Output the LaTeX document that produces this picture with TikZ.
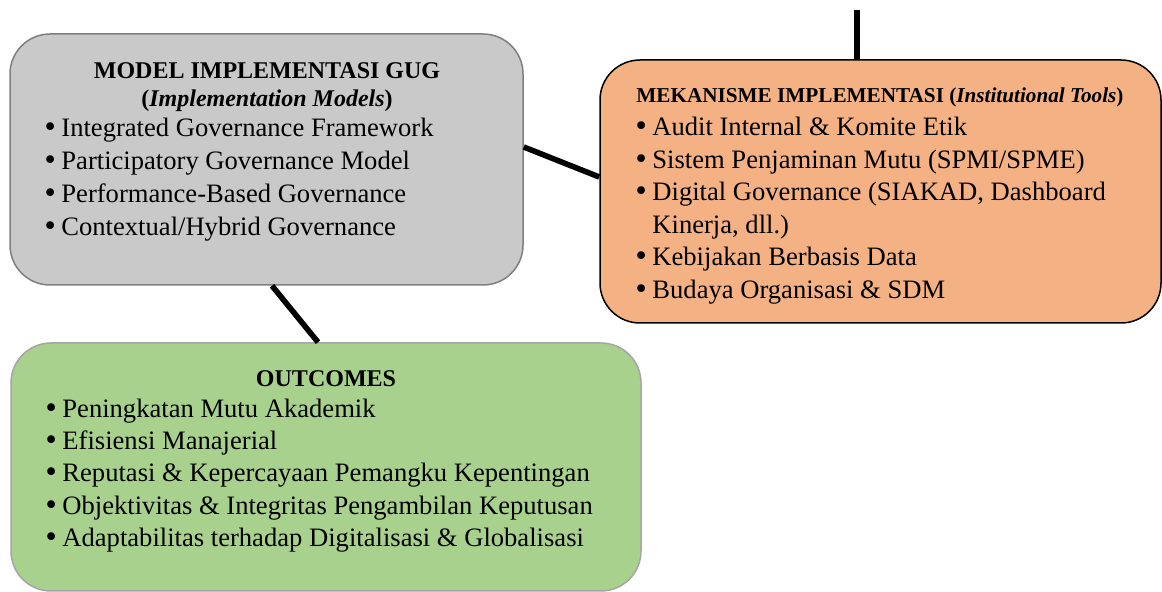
\documentclass[tikz,border=0pt]{standalone}
\usepackage{fontspec}
\setmainfont{Liberation Serif}
\newfontfamily\bulfont{DejaVu Sans}
\usetikzlibrary{positioning}

\definecolor{gugGray}{HTML}{C9C9C9}
\definecolor{gugEdge}{HTML}{7F7F7F}
\definecolor{toolOrange}{HTML}{F4B183}
\definecolor{outGreen}{HTML}{A9D18E}
\definecolor{outEdge}{HTML}{A5A5A5}

\tikzset{
  box/.style={draw, rounded corners=20pt, line width=0.75pt, inner sep=0pt},
  item/.style={anchor=base west, inner sep=0pt, font=\fontsize{13.3}{16.5}\selectfont},
  head/.style={anchor=base, inner sep=0pt, font=\bfseries\fontsize{12}{14}\selectfont},
  link/.style={line width=2.8pt},
}
\newcommand{\bul}{\makebox[9.5pt][l]{\bulfont\textbullet}}

\begin{document}
\begin{tikzpicture}[x=0.5pt, y=-0.5pt]
\useasboundingbox (0,0) rectangle (1162,592);
% boxes
\node[box, draw=gugEdge, fill=gugGray, minimum width=256.5pt, minimum height=125.5pt] (model) at (266.5,159.5) {};
\node[box, draw=black, fill=toolOrange, minimum width=280.5pt, minimum height=131.5pt] (tools) at (880.5,191.5) {};
\node[box, draw=outEdge, fill=outGreen, minimum width=315pt, minimum height=124pt] (outcome) at (326,467) {};

% connectors
\coordinate (topend) at (857,10);
\draw[link] (topend) -- (topend |- tools.north);
\draw[link] ([yshift=6.25pt]model.east) -- ([yshift=7.25pt]tools.west);
\draw[link] ([xshift=2.75pt]model.south) -- ([xshift=-4pt]outcome.north);

% model texts
\node[head] (modelhead) at (267,79) {MODEL IMPLEMENTASI GUG};
\node[head] (modelsub) at (267,107) {(\textit{Implementation Models})};
\foreach \txt [count=\i] in {Integrated Governance Framework, Participatory Governance Model,
  Performance-Based Governance, Contextual/Hybrid Governance}
  \node[item] (model\i) at (42,{104+33*\i}) {\bul\txt};

% tools texts
\node[head, anchor=base west, font=\bfseries\fontsize{10.6}{13}\selectfont] (toolshead) at (636,103)
  {MEKANISME IMPLEMENTASI (\textit{Institutional Tools})};
\node[item] (tools1) at (633,136) {\bul Audit Internal \& Komite Etik};
\node[item] (tools2) at (633,168.5) {\bul Sistem Penjaminan Mutu (SPMI/SPME)};
\node[item] (tools3) at (633,201) {\bul Digital Governance (SIAKAD, Dashboard};
\node[item] (tools3b) at (633,233.5) {\hspace*{9.5pt}Kinerja, dll.)};
\node[item] (tools4) at (633,266) {\bul Kebijakan Berbasis Data};
\node[item] (tools5) at (633,298.5) {\bul Budaya Organisasi \& SDM};

% outcome texts
\node[head] (outhead) at (326,387) {OUTCOMES};
\foreach \txt [count=\i] in {Peningkatan Mutu Akademik, Efisiensi Manajerial,
  Reputasi \& Kepercayaan Pemangku Kepentingan, Objektivitas \& Integritas Pengambilan Keputusan,
  Adaptabilitas terhadap Digitalisasi \& Globalisasi}
  \node[item] (out\i) at (43,{385+32.3*\i}) {\bul\txt};
\end{tikzpicture}
\end{document}
